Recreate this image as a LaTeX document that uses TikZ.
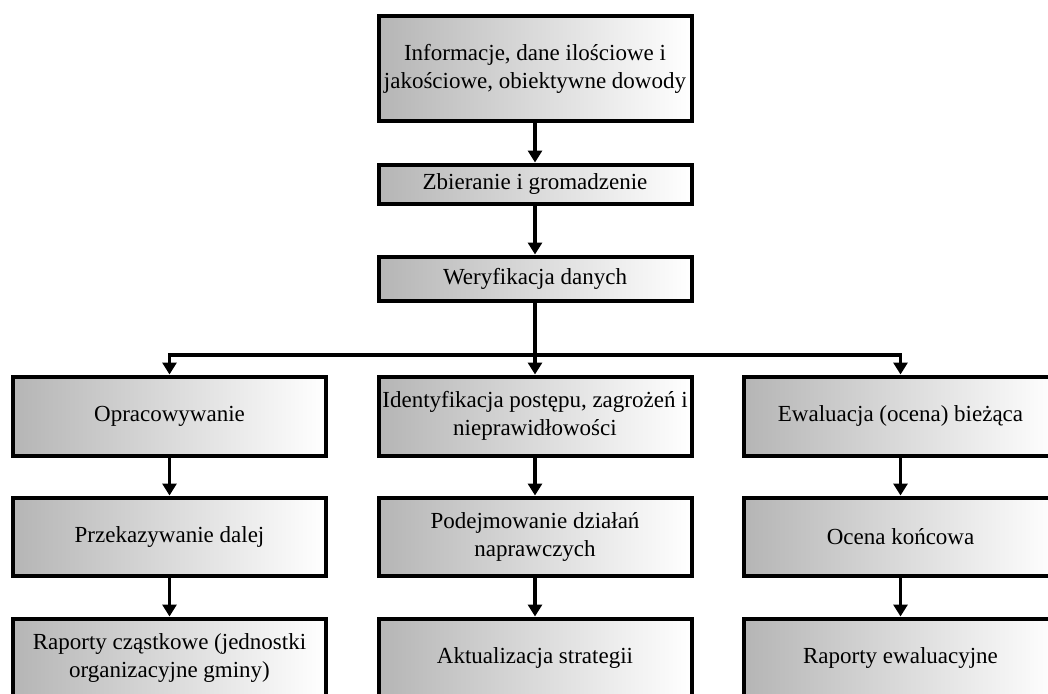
\documentclass[tikz,border=0pt]{standalone}
\usepackage{fontspec}
\setmainfont{Liberation Serif}
\usetikzlibrary{arrows.meta}
\begin{document}
\begin{tikzpicture}[x=1pt,y=-1pt,
  box/.style={draw=black, line width=4pt, left color=gray!58, right color=white,
    shading angle=90, minimum width=313pt, align=center, inner sep=0pt,
    font=\fontsize{23}{28}\selectfont},
  conn/.style={line width=3.5pt, -{Triangle[width=14pt,length=12pt]}},
  seg/.style={line width=3.5pt}]
\useasboundingbox (0,0) rectangle (1048,693);
\clip (0,0) rectangle (1048,693);
\node[box, minimum height=104pt] (info) at (535,68.5) {Informacje, dane ilościowe i\\jakościowe, obiektywne dowody};
\node[box, minimum height=39pt] (zbier) at (535,184) {Zbieranie i gromadzenie};
\node[box, minimum height=44pt] (wer) at (535,278.5) {Weryfikacja danych};
% columns
\node[box, minimum height=79pt] (opr) at (169.5,416) {Opracowywanie};
\node[box, minimum height=78pt] (prz) at (169.5,536.5) {Przekazywanie dalej};
\node[box, minimum height=79pt] (rap) at (169.5,658) {Raporty cząstkowe (jednostki\\organizacyjne gminy)};
\node[box, minimum height=79pt] (ident) at (535,416) {Identyfikacja postępu, zagrożeń i\\nieprawidłowości};
\node[box, minimum height=78pt] (podej) at (535,536.5) {Podejmowanie działań\\naprawczych};
\node[box, minimum height=79pt] (akt) at (535,658) {Aktualizacja strategii};
\node[box, minimum height=79pt] (ewal) at (900.5,416) {Ewaluacja (ocena) bieżąca};
\node[box, minimum height=78pt] (ocena) at (900.5,536.5) {Ocena końcowa};
\node[box, minimum height=79pt] (rapew) at (900.5,658) {Raporty ewaluacyjne};
% connectors
\draw[conn] (info) -- (zbier);
\draw[conn] (zbier) -- (wer);
\draw[conn] (wer) -- (ident);
\coordinate (hl) at (opr.north |- 0,355);
\coordinate (hr) at (ewal.north |- 0,355);
\draw[seg] ([xshift=-1.75pt]hl) -- ([xshift=1.75pt]hr);
\draw[conn] (hl) -- (opr);
\draw[conn] (hr) -- (ewal);
\draw[conn] (opr) -- (prz);
\draw[conn] (prz) -- (rap);
\draw[conn] (ident) -- (podej);
\draw[conn] (podej) -- (akt);
\draw[conn] (ewal) -- (ocena);
\draw[conn] (ocena) -- (rapew);
\end{tikzpicture}
\end{document}
